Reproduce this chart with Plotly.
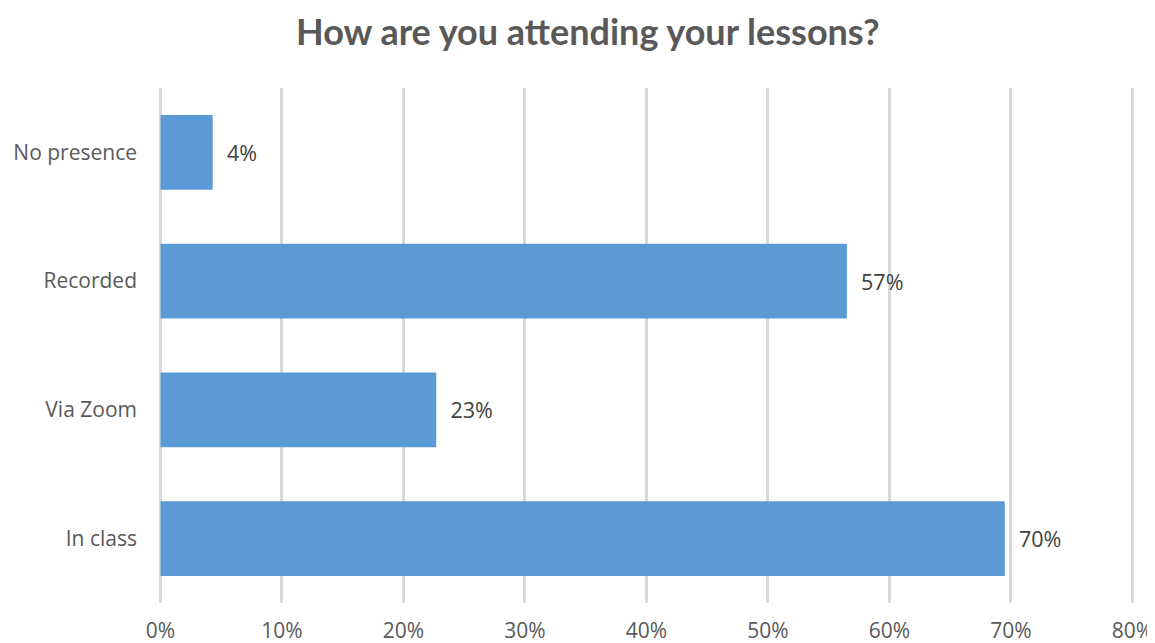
import plotly.graph_objects as go

categories = ["In class", "Via Zoom", "Recorded", "No presence"]
values = [69.5, 22.7, 56.5, 4.3]
labels = ["70%", "23%", "57%", "4%"]
tick_vals = [0, 10, 20, 30, 40, 50, 60, 70, 80]
tick_text = ["0%", "10%", "20%", "30%", "40%", "50%", "60%", "70%", "80%"]

fig = go.Figure(go.Bar(
    y=categories, x=values, orientation="h",
    marker=dict(color="#5B9BD5", line=dict(width=0)),
    text=["  " + t for t in labels], textposition="outside",
    textfont=dict(family="Open Sans", size=21.5, color="#404040"),
    cliponaxis=False, width=0.58,
))

fig.update_layout(
    width=1155, height=643,
    margin=dict(l=151.5, r=27.4, t=80, b=48, autoexpand=False),
    paper_bgcolor="white", plot_bgcolor="white",
    title=dict(text="<b>How are you attending your lessons?</b>", x=0.502, xanchor="center",
               y=0.962, yanchor="middle",
               font=dict(family="Lato", size=36, color="#595959")),
    showlegend=False,
    xaxis=dict(range=[-0.04, 80.3], tickvals=tick_vals, ticktext=tick_text,
               showgrid=True, gridcolor="#D9D9D9", gridwidth=3,
               zeroline=True, zerolinecolor="#D9D9D9", zerolinewidth=3,
               showline=False, ticks="", automargin=False,
               ticklabelstandoff=13,
               tickfont=dict(family="Open Sans", size=21, color="#595959")),
    yaxis=dict(showgrid=False, zeroline=False, showline=False, ticks="", automargin=False,
               ticklabelstandoff=22, range=[-0.5, 3.5],
               tickfont=dict(family="Open Sans", size=21, color="#595959")),
)

fig.write_html("out.html")
